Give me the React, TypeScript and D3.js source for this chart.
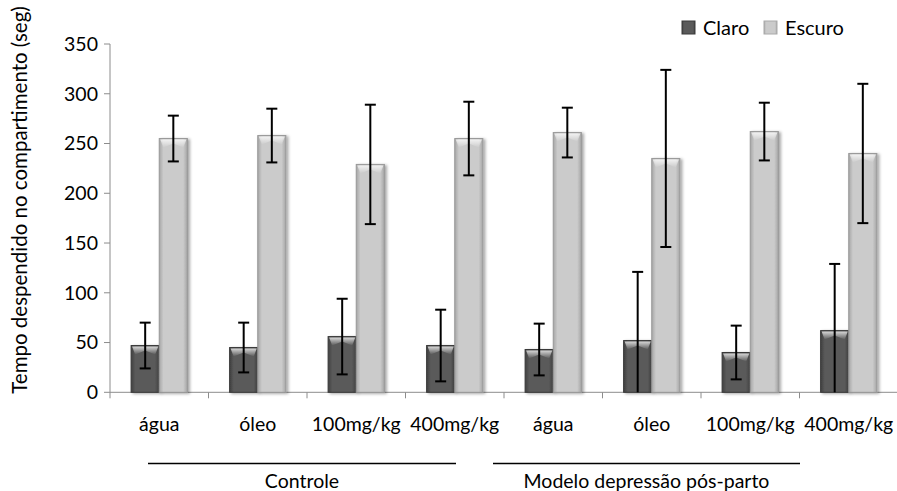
import React, { useRef, useEffect } from "react";
import * as d3 from "d3";

// values
const categories = ["água", "óleo", "100mg/kg", "400mg/kg", "água", "óleo", "100mg/kg", "400mg/kg"];
const series = ["Claro", "Escuro"];
const claro = [47, 45, 56, 47, 43, 52, 40, 62];
const claroErr = [23, 25, 38, 36, 26, 69, 27, 67];
const escuro = [255, 258, 229, 255, 261, 235, 262, 240];
const escuroErr = [23, 27, 60, 37, 25, 89, 29, 70];
const yTicks = [0, 50, 100, 150, 200, 250, 300, 350];
const groupLabels = ["Controle", "Modelo depressão pós-parto"];

const FONT = "Lato, 'Noto Sans', sans-serif";

export default function App() {
  const svgRef = useRef<SVGSVGElement>(null);

  useEffect(() => {
    const svg = d3.select(svgRef.current);
    svg.selectAll("*").remove();

    const width = 897;
    const height = 491;
    const left = 110;
    const right = 898;
    const fs = 19.5;

    svg.attr("width", width).attr("height", height);

    const y = d3.scaleLinear().domain([0, 350]).range([392.3, 44]);
    const x = d3
      .scaleBand<number>()
      .domain(d3.range(categories.length))
      .range([left, right])
      .paddingInner(0)
      .paddingOuter(0);
    const xs = d3
      .scaleBand<string>()
      .domain(series)
      .range([0, x.bandwidth()])
      .paddingInner(0)
      .paddingOuter(0.75);

    // gradients + shadow
    const defs = svg.append("defs");
    const grad = (id, edge, mid) => {
      const g = defs
        .append("linearGradient")
        .attr("id", id)
        .attr("x1", "0")
        .attr("x2", "1")
        .attr("y1", "0")
        .attr("y2", "0");
      g.append("stop").attr("offset", "0").attr("stop-color", edge);
      g.append("stop").attr("offset", "0.15").attr("stop-color", mid);
      g.append("stop").attr("offset", "0.85").attr("stop-color", mid);
      g.append("stop").attr("offset", "1").attr("stop-color", edge);
    };
    grad("gDark", "#404040", "#5a5a5a");
    grad("gLight", "#a6a6a6", "#cbcbcb");
    const capGrad = defs
      .append("linearGradient")
      .attr("id", "gCap")
      .attr("x1", "0")
      .attr("x2", "0")
      .attr("y1", "0")
      .attr("y2", "1");
    capGrad.append("stop").attr("offset", "0").attr("stop-color", "#fff").attr("stop-opacity", 0.75);
    capGrad.append("stop").attr("offset", "1").attr("stop-color", "#fff").attr("stop-opacity", 0);
    defs
      .append("filter")
      .attr("id", "shadow")
      .attr("x", "-20%")
      .attr("y", "-5%")
      .attr("width", "150%")
      .attr("height", "115%")
      .append("feDropShadow")
      .attr("dx", 2)
      .attr("dy", 1)
      .attr("stdDeviation", 1.5)
      .attr("flood-color", "#000")
      .attr("flood-opacity", 0.35);

    // y axis
    svg
      .append("line")
      .attr("x1", left)
      .attr("x2", left)
      .attr("y1", y(350))
      .attr("y2", y(0))
      .attr("stroke", "#8c8c8c");
    const yt = svg.append("g");
    yt.selectAll("line")
      .data(yTicks)
      .join("line")
      .attr("x1", left - 6)
      .attr("x2", left)
      .attr("y1", (d) => y(d))
      .attr("y2", (d) => y(d))
      .attr("stroke", "#8c8c8c");
    yt.selectAll("text")
      .data(yTicks)
      .join("text")
      .attr("x", 98)
      .attr("y", (d) => y(d))
      .attr("dy", "0.35em")
      .attr("text-anchor", "end")
      .attr("font-family", FONT)
      .attr("font-size", fs)
      .attr("fill", "#000")
      .text((d) => d);

    svg
      .append("text")
      .attr("transform", `translate(20,200) rotate(-90)`)
      .attr("text-anchor", "middle")
      .attr("dy", "0.35em")
      .attr("font-family", FONT)
      .attr("font-size", 20.5)
      .text("Tempo despendido no compartimento (seg)");

    // x axis
    svg
      .append("line")
      .attr("x1", left)
      .attr("x2", right)
      .attr("y1", y(0))
      .attr("y2", y(0))
      .attr("stroke", "#8c8c8c");
    svg
      .append("g")
      .selectAll("line")
      .data(d3.range(categories.length + 1))
      .join("line")
      .attr("x1", (i) => left + i * x.step())
      .attr("x2", (i) => left + i * x.step())
      .attr("y1", y(0))
      .attr("y2", y(0) + 6)
      .attr("stroke", "#8c8c8c");

    svg
      .append("g")
      .selectAll("text")
      .data(categories)
      .join("text")
      .attr("x", (_, i) => x(i) + x.bandwidth() / 2)
      .attr("y", 431)
      .attr("text-anchor", "middle")
      .attr("font-family", FONT)
      .attr("font-size", fs)
      .text((d) => d);

    // bars
    const data = categories.map((c, i) => [
      { s: "Claro", v: claro[i], e: claroErr[i], fill: "url(#gDark)", stroke: "#3a3a3a" },
      { s: "Escuro", v: escuro[i], e: escuroErr[i], fill: "url(#gLight)", stroke: "#999" },
    ]);

    const cat = svg
      .append("g")
      .selectAll("g")
      .data(data)
      .join("g")
      .attr("transform", (_, i) => `translate(${x(i)},0)`);

    const bar = cat
      .selectAll("g.bar")
      .data((d) => d)
      .join("g")
      .attr("class", "bar");

    bar
      .append("rect")
      .attr("x", (d) => xs(d.s))
      .attr("y", (d) => y(d.v))
      .attr("width", xs.bandwidth())
      .attr("height", (d) => y(0) - y(d.v))
      .attr("fill", (d) => d.fill)
      .attr("stroke", (d) => d.stroke)
      .attr("stroke-width", 1)
      .attr("filter", "url(#shadow)");

    // bevel highlight on top
    bar
      .append("path")
      .attr("d", (d) => {
        const x0 = xs(d.s) + 1;
        const w = xs.bandwidth() - 2;
        const t = y(d.v) + 1;
        return `M${x0},${t}L${x0 + w},${t}L${x0 + w - 3},${t + 8}L${x0 + w / 2},${t + 4}L${x0 + 3},${t + 8}Z`;
      })
      .attr("fill", "url(#gCap)");

    // error bars
    const err = cat
      .selectAll("g.err")
      .data((d) => d)
      .join("g")
      .attr("class", "err")
      .attr("stroke", "#000")
      .attr("stroke-width", 2);
    const cx = (d) => xs(d.s) + xs.bandwidth() / 2;
    err
      .append("line")
      .attr("x1", cx)
      .attr("x2", cx)
      .attr("y1", (d) => y(d.v + d.e))
      .attr("y2", (d) => y(Math.max(0, d.v - d.e)));
    err
      .append("line")
      .attr("x1", (d) => cx(d) - 5.5)
      .attr("x2", (d) => cx(d) + 5.5)
      .attr("y1", (d) => y(d.v + d.e))
      .attr("y2", (d) => y(d.v + d.e));
    err
      .filter((d) => d.v - d.e > 0)
      .append("line")
      .attr("x1", (d) => cx(d) - 5.5)
      .attr("x2", (d) => cx(d) + 5.5)
      .attr("y1", (d) => y(d.v - d.e))
      .attr("y2", (d) => y(d.v - d.e));

    // group brackets (pixel extents of the drawn lines)
    const groupLines = [
      [148, 456],
      [493, 800],
    ];
    const grp = svg.append("g").selectAll("g").data(groupLabels).join("g");
    grp
      .append("line")
      .attr("x1", (_, i) => groupLines[i][0])
      .attr("x2", (_, i) => groupLines[i][1])
      .attr("y1", 463.5)
      .attr("y2", 463.5)
      .attr("stroke", "#000")
      .attr("stroke-width", 1.5);
    grp
      .append("text")
      .attr("x", (_, i) => (groupLines[i][0] + groupLines[i][1]) / 2)
      .attr("y", 488)
      .attr("text-anchor", "middle")
      .attr("font-family", FONT)
      .attr("font-size", fs)
      .text((d) => d);

    // legend
    const legendX = [682, 764];
    const leg = svg
      .append("g")
      .selectAll("g")
      .data(series)
      .join("g")
      .attr("transform", (_, i) => `translate(${legendX[i]},21)`);
    leg
      .append("rect")
      .attr("width", 13)
      .attr("height", 13)
      .attr("fill", (_, i) => (i === 0 ? "url(#gDark)" : "url(#gLight)"))
      .attr("stroke", (_, i) => (i === 0 ? "#3a3a3a" : "#aaa"));
    leg
      .append("text")
      .attr("x", 21)
      .attr("y", 14)
      .attr("font-family", FONT)
      .attr("font-size", 20)
      .text((d) => d);
  }, []);

  return <svg ref={svgRef} style={{ position: "absolute", left: 0, top: 0 }}></svg>;
}
